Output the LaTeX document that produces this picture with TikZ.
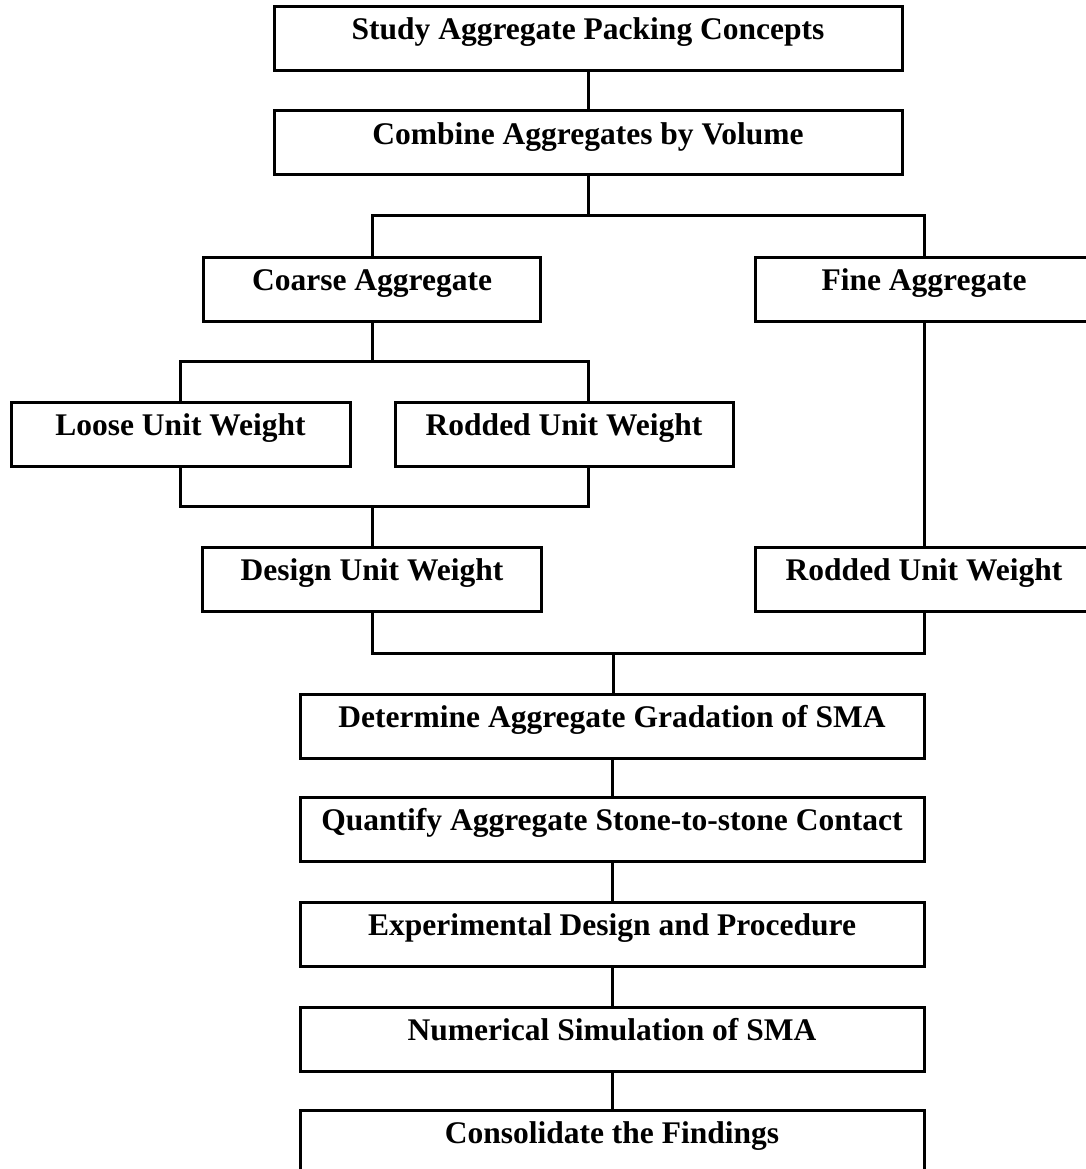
\documentclass[tikz,border=0pt]{standalone}
\usepackage{fontspec}
\setmainfont{Liberation Serif}
\tikzset{
  stage/.style={draw, rectangle, line width=3pt, minimum height=64pt, inner sep=0pt,
    text height=0.7em, text depth=0.45em, font=\fontsize{31.5}{36}\selectfont\bfseries},
  link/.style={line width=3pt}
}
\begin{document}
\begin{tikzpicture}[x=1pt, y=-1pt]
\useasboundingbox (0,0) rectangle (1086,1169);
\clip (0,0) rectangle (1086,1169);
\node[stage, minimum width=628pt] (study) at (588,38.5){Study Aggregate Packing Concepts};
\node[stage, minimum width=628pt] (combine) at (588,143){Combine Aggregates by Volume};
\node[stage, minimum width=337pt] (coarse) at (372,289){Coarse Aggregate};
\node[stage, minimum width=338pt] (fine) at (924,289){Fine Aggregate};
\node[stage, minimum width=339pt] (loose) at (180.5,434){Loose Unit Weight};
\node[stage, minimum width=338pt] (rodded) at (564,434){Rodded Unit Weight};
\node[stage, minimum width=339pt] (design) at (372,579.5){Design Unit Weight};
\node[stage, minimum width=338pt] (finerodded) at (924,579.5){Rodded Unit Weight};
\node[stage, minimum width=624pt] (gradation) at (612,726){Determine Aggregate Gradation of SMA};
\node[stage, minimum width=624pt] (contact) at (612,829.5){Quantify Aggregate Stone-to-stone Contact};
\node[stage, minimum width=624pt] (experiment) at (612,934){Experimental Design and Procedure};
\node[stage, minimum width=624pt] (simulation) at (612,1039.5){Numerical Simulation of SMA};
\node[stage, minimum width=624pt] (findings) at (612,1142){Consolidate the Findings};
\coordinate (split) at (588,215);
\coordinate (coarsesplit) at (372,361);
\coordinate (coarsejoin) at (372,506);
\coordinate (join) at (613,653);
\draw[link](study) -- (combine);
\draw[link](combine) -- (split);
\draw[link](split) -| (coarse.north);
\draw[link](split) -| (fine.north);
\draw[link](coarse) -- (coarsesplit);
\draw[link](coarsesplit) -| (loose.north);
\draw[link](coarsesplit) -| ([xshift=24pt]rodded.north);
\draw[link](loose.south) |- (coarsejoin);
\draw[link]([xshift=24pt]rodded.south) |- (coarsejoin);
\draw[link](coarsejoin) -- (design);
\draw[link](fine) -- (finerodded);
\draw[link](design.south) |- (join);
\draw[link](finerodded.south) |- (join);
\draw[link](join) -- ([xshift=1pt]gradation.north);
\draw[link](gradation) -- (contact);
\draw[link](contact) -- (experiment);
\draw[link](experiment) -- (simulation);
\draw[link](simulation) -- (findings);
\end{tikzpicture}
\end{document}
